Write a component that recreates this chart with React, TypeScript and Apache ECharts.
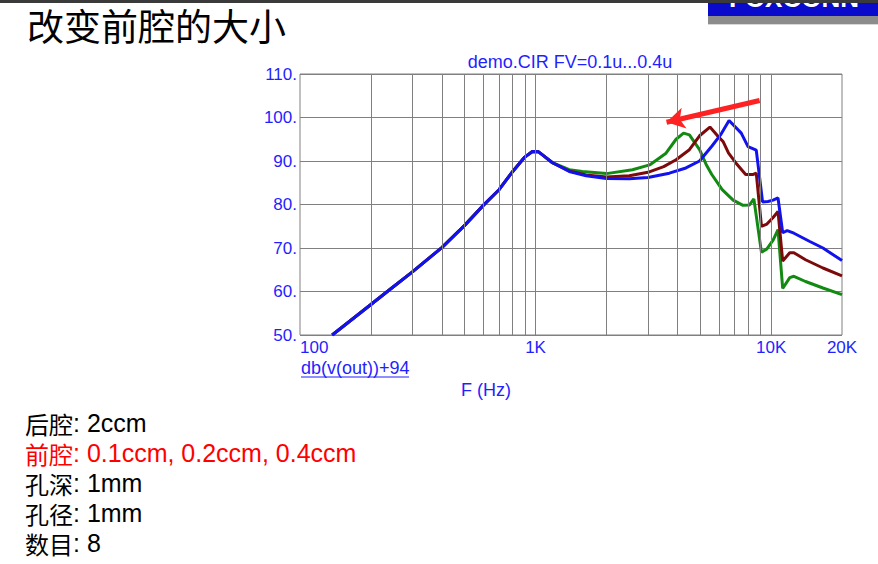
import React, { useEffect, useRef } from "react";
import * as echarts from "echarts";

// Shared low-frequency part (all three curves overlap here)
const freqShared = [137, 162, 200, 240, 300, 400, 500, 600, 700, 800, 900, 970, 1030, 1070, 1180];
const dbShared = [50.0, 53.1, 57.0, 60.4, 64.5, 70.1, 75.2, 79.8, 83.4, 87.6, 90.9, 92.2, 92.1, 91.4, 89.6];

// Front cavity 0.1ccm (blue)
const freqBlue = [1390, 1640, 2000, 2500, 3000, 3700, 4350, 4970, 5600, 6100, 6630, 7470, 7980, 8650, 9200, 9700, 10200, 10700, 11200, 11700, 12500, 14600, 16600, 20000];
const dbBlue = [87.6, 86.6, 86.0, 85.9, 86.2, 87.2, 88.4, 90.0, 93.4, 96.0, 99.3, 96.4, 93.3, 92.5, 80.6, 80.7, 81.0, 81.5, 73.5, 74.0, 73.4, 71.5, 70.0, 67.1];

// Front cavity 0.2ccm (maroon)
const freqMaroon = [1390, 1640, 2000, 2500, 3000, 3500, 3950, 4500, 4970, 5500, 5900, 6250, 6600, 7100, 7800, 8400, 8650, 9100, 9600, 10200, 10700, 11200, 12000, 12500, 14000, 16600, 20000];
const dbMaroon = [87.7, 86.8, 86.3, 86.6, 87.4, 88.7, 90.3, 92.6, 95.8, 97.8, 95.9, 94.5, 91.8, 89.5, 86.9, 86.9, 87.2, 75.0, 75.5, 77.0, 78.4, 67.0, 68.9, 68.9, 67.3, 65.4, 63.6];

// Front cavity 0.4ccm (green)
const freqGreen = [1390, 1580, 2000, 2580, 3050, 3580, 3950, 4250, 4500, 4970, 5300, 5600, 6200, 6900, 7600, 8100, 8450, 9100, 9600, 10200, 10700, 11200, 12000, 12500, 14000, 16600, 20000];
const dbGreen = [88.0, 87.6, 87.1, 88.0, 89.1, 91.8, 95.0, 96.4, 96.0, 92.6, 89.2, 86.9, 83.4, 81.0, 79.8, 79.9, 81.3, 69.0, 69.8, 71.8, 74.2, 60.7, 63.2, 63.5, 62.3, 60.8, 59.3];

// Vertical log grid lines
const gridFreqs = [200, 300, 400, 500, 600, 700, 800, 900, 1000, 2000, 3000, 4000, 5000, 6000, 7000, 8000, 9000, 10000];
const xLabelValues = [100, 1000, 10000, 20000];

// Arrow annotation (data coords)
const arrowFrom = [8940, 103.9];
const arrowTo = [3600, 98.9];

const infoLines = [
  { cn: "后腔", en: ": 2ccm", color: "#000000" },
  { cn: "前腔", en: ": 0.1ccm, 0.2ccm, 0.4ccm", color: "#ff0000" },
  { cn: "孔深", en: ": 1mm", color: "#000000" },
  { cn: "孔径", en: ": 1mm", color: "#000000" },
  { cn: "数目", en: ": 8", color: "#000000" },
];

const BLUE_TXT = "#1f1fff";
const SANS = "'Liberation Sans', Arial, sans-serif";
const CJK = "'Noto Sans CJK SC', sans-serif";

function pairs(f: number[], d: number[]) {
  return f.map((v, i) => [v, d[i]]);
}

export default function App() {
  const ref = useRef<HTMLDivElement>(null);
  useEffect(() => {
    if (!ref.current) return;
    const chart = echarts.init(ref.current, undefined, { renderer: "svg" });
    const shared = pairs(freqShared, dbShared);
    const lineSeries = (name: string, color: string, f: number[], d: number[], extra: any = {}) => ({
      name,
      type: "line",
      data: shared.concat(pairs(f, d)),
      showSymbol: false,
      symbol: "none",
      lineStyle: { color, width: 3 },
      itemStyle: { color },
      z: 3,
      silent: true,
      ...extra,
    });

    const graphic: any[] = [
      { type: "rect", shape: { x: 708, y: 0, width: 170, height: 16 }, style: { fill: "#0a0acc" }, z: 10 },
      { type: "rect", shape: { x: 708, y: 16, width: 170, height: 8 }, style: { fill: "#8c8c8c" }, z: 10 },
      { type: "rect", shape: { x: 708, y: 24, width: 170, height: 1 }, style: { fill: "#d8d8d8" }, z: 10 },
      {
        type: "text",
        x: 729,
        y: 11,
        style: { text: "FOXCONN", fill: "#ffffff", font: `bold 26px ${SANS}`, textAlign: "left", textVerticalAlign: "bottom" },
        z: 11,
      },
      { type: "rect", shape: { x: 0, y: 0, width: 878, height: 3 }, style: { fill: "#3a3a3a" }, z: 12 },
      {
        type: "text",
        x: 27,
        y: 25,
        style: { text: "改变前腔的大小", fill: "#000000", font: `37px ${CJK}`, textAlign: "left", textVerticalAlign: "middle", lineHeight: 38 },
        z: 10,
      },
      {
        type: "text",
        x: 570,
        y: 62,
        style: { text: "demo.CIR FV=0.1u...0.4u", fill: BLUE_TXT, font: `18px ${SANS}`, textAlign: "center", textVerticalAlign: "middle" },
        z: 10,
      },
      {
        type: "text",
        x: 301,
        y: 368,
        style: { text: "db(v(out))+94", fill: BLUE_TXT, font: `18px ${SANS}`, textAlign: "left", textVerticalAlign: "middle" },
        z: 10,
      },
      { type: "line", shape: { x1: 301, y1: 377, x2: 409, y2: 377 }, style: { stroke: BLUE_TXT, lineWidth: 1 }, z: 10 },
      {
        type: "text",
        x: 486,
        y: 390,
        style: { text: "F (Hz)", fill: BLUE_TXT, font: `18px ${SANS}`, textAlign: "center", textVerticalAlign: "middle" },
        z: 10,
      },
    ];
    infoLines.forEach((ln, i) => {
      graphic.push({
        type: "text",
        x: 25,
        y: 423 + i * 30,
        style: {
          text: `{cn|${ln.cn}}{en|${ln.en}}`,
          textAlign: "left",
          textVerticalAlign: "middle",
          rich: {
            cn: { fontFamily: CJK, fontSize: 24, fill: ln.color, color: ln.color, lineHeight: 26 },
            en: { fontFamily: SANS, fontSize: 25, fill: ln.color, color: ln.color, lineHeight: 26 },
          },
        },
        z: 10,
      });
    });

    chart.setOption({
      animation: false,
      backgroundColor: "#ffffff",
      grid: { left: 300, right: 36, top: 74, bottom: 229, show: true, borderColor: "#808080", borderWidth: 1, backgroundColor: "transparent" },
      xAxis: {
        type: "log",
        logBase: 10,
        min: 100,
        max: 20000,
        axisLine: { show: false },
        axisTick: { show: false },
        splitLine: { show: false },
        axisLabel: {
          customValues: xLabelValues,
          alignMinLabel: "left",
          formatter: (v: number) => (v >= 1000 ? `${Math.round(v / 1000)}K` : `${v}`),
          color: BLUE_TXT,
          fontSize: 17,
          fontFamily: SANS,
          margin: 4,
        },
      },
      yAxis: {
        type: "value",
        min: 50,
        max: 110,
        interval: 10,
        axisLine: { show: false },
        axisTick: { show: false },
        splitLine: { show: true, lineStyle: { color: "#808080", width: 1, type: "solid" } },
        axisLabel: { formatter: (v: number) => `${v}.`, color: BLUE_TXT, fontSize: 17, fontFamily: SANS, margin: 3 },
      },
      series: [
        {
          type: "line",
          data: [[1000, 40]],
          symbol: "none",
          lineStyle: { width: 0 },
          z: 1,
          silent: true,
          markLine: {
            silent: true,
            animation: false,
            symbol: ["none", "none"],
            label: { show: false },
            lineStyle: { color: "#808080", width: 1, type: "solid" },
            emphasis: { disabled: true },
            data: gridFreqs.map((f) => ({ xAxis: f })),
          },
        },
        lineSeries("0.4ccm", "#128a12", freqGreen, dbGreen),
        lineSeries("0.2ccm", "#7d0a0a", freqMaroon, dbMaroon),
        lineSeries("0.1ccm", "#1212ee", freqBlue, dbBlue, {
          markLine: {
            silent: true,
            animation: false,
            symbol: ["none", "arrow"],
            symbolSize: [16, 18],
            label: { show: false },
            lineStyle: { color: "#ff2222", width: 5, type: "solid" },
            emphasis: { disabled: true },
            data: [[{ coord: arrowFrom }, { coord: arrowTo }]],
          },
        }),
      ],
      graphic,
    });
    return () => chart.dispose();
  }, []);
  return <div ref={ref} style={{ position: "absolute", left: 0, top: 0, width: 878, height: 564, background: "#fff" }} />;
}
